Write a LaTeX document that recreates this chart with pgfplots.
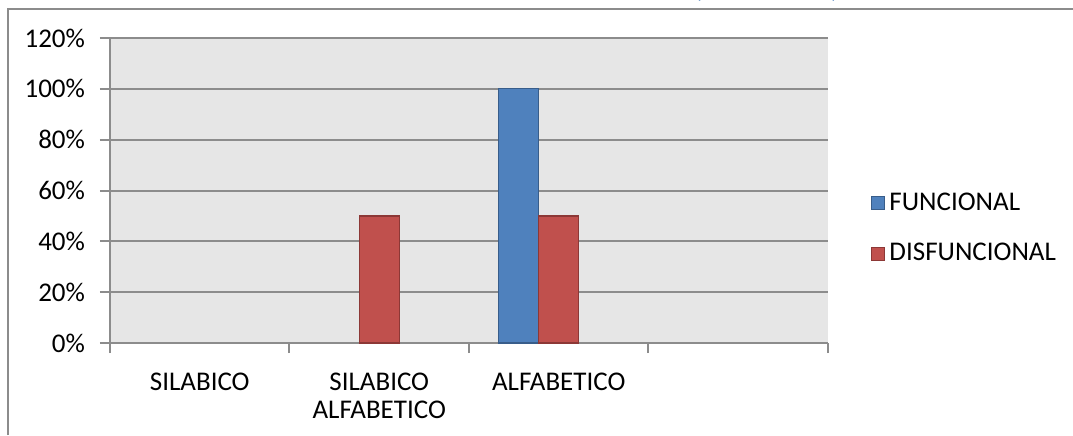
\documentclass[border=0pt]{standalone}
\usepackage{pgfplots}
\pgfplotsset{compat=1.18}
\usepackage{fontspec}
\setmainfont{Carlito}
\definecolor{fblue}{RGB}{79,129,189}
\definecolor{fblueE}{RGB}{56,93,138}
\definecolor{fred}{RGB}{192,80,77}
\definecolor{fredE}{RGB}{140,56,54}
\definecolor{gridgray}{RGB}{140,140,140}
\definecolor{bggray}{RGB}{230,230,230}
\definecolor{titleblue}{RGB}{79,129,189}
\begin{document}
\begin{tikzpicture}
\useasboundingbox (0,0) rectangle (536.5pt,-217.5pt);
\clip (0,0) rectangle (536.5pt,-217.5pt);
% outer chart frame (left and top edges)
\draw[gridgray, line width=0.7pt] (4pt,-217.5pt) -- (4pt,-4.5pt) -- (536.5pt,-4.5pt);
% clipped title (only the parentheses' bottoms are visible)
\node[anchor=base west, inner sep=0pt, text=titleblue, font={\fontsize{13}{15}\selectfont\bfseries}] at (347pt,1.2pt) {(\hspace{64pt})};
\begin{axis}[
  at={(55pt,-171.5pt)}, anchor=south west,
  scale only axis, width=359pt, height=152.5pt,
  xmin=-0.5, xmax=3.5, ymin=0, ymax=120,
  axis background/.style={fill=bggray},
  axis lines*=left,
  axis line style={gridgray, line width=1pt},
  every tick/.style={gridgray, line width=1pt},
  tick align=outside,
  ytick={0,20,40,60,80,100,120},
  yticklabel={\pgfmathprintnumber{\tick}\%},
  /pgf/number format/assume math mode=true,
  yticklabel style={xshift=-4pt},
  major tick length=5pt,
  ymajorgrids, grid style={gridgray, line width=1pt},
  xtick={-0.5,0.5,1.5,2.5,3.5},
  xticklabels={},
  extra x ticks={0,1,2},
  extra x tick labels={SILABICO,{SILABICO\\ALFABETICO},ALFABETICO},
  extra x tick style={tick style={draw=none}, xticklabel style={align=center, anchor=north, yshift=-6.5pt}},
  tick label style={font={\fontsize{13.5}{14}\selectfont}},
  clip=false,
  legend style={draw=none, fill=none, at={(1.06,0.376)}, anchor=west, inner sep=0pt,
    font={\fontsize{13.5}{14}\selectfont}, row sep=11pt, cells={anchor=west}},
  legend image code/.code={\draw[#1, line width=0.5pt] (0pt,-3.25pt) rectangle (6.5pt,3.25pt);},
]
\addplot[ybar, bar width=19.95pt, bar shift=-19.95pt, fill=fblue, draw=fblueE, line width=0.6pt]
  coordinates {(2,100)};
\addlegendentry{FUNCIONAL}
\addplot[ybar, bar width=19.95pt, bar shift=0pt, fill=fred, draw=fredE, line width=0.6pt]
  coordinates {(1,50) (2,50)};
\addlegendentry{DISFUNCIONAL}
\end{axis}
\end{tikzpicture}
\end{document}
